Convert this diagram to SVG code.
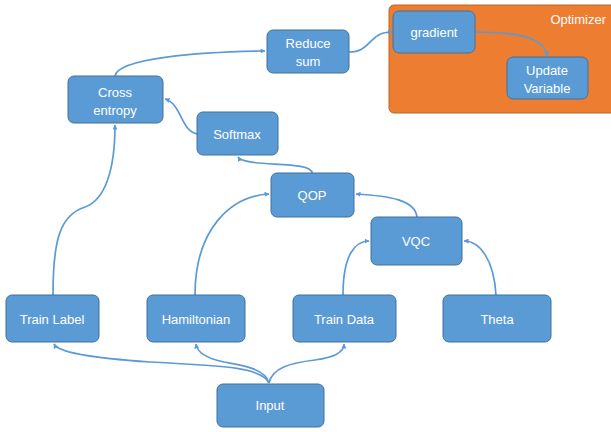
<svg xmlns="http://www.w3.org/2000/svg" width="611" height="432" viewBox="0 0 611 432">
<defs>
<marker id="ah" viewBox="0 0 10 10" refX="9" refY="5" markerWidth="5" markerHeight="5" markerUnits="userSpaceOnUse" orient="auto">
<path d="M0,0 L10,5 L0,10 z" fill="#5B9BD5"/>
</marker>
</defs>
<style>
.n rect{fill:#5B9BD5;stroke:#41719C;stroke-width:1}
.n text{fill:#FFFFFF;font-family:"Liberation Sans",Arial,sans-serif;font-size:13px;text-anchor:middle;dominant-baseline:central}
.c path{fill:none;stroke:#5B9BD5;stroke-width:1.7;marker-end:url(#ah)}
</style>
<rect width="611" height="432" fill="#FFFFFF"/>
<g id="optimizer">
<rect x="389" y="5" width="230" height="108" rx="5" fill="#ED7D31" stroke="#B8652A" stroke-width="1"/>
<text x="606" y="19" fill="#FFFFFF" font-family="Liberation Sans,Arial,sans-serif" font-size="13" text-anchor="end" dominant-baseline="central">Optimizer</text>
</g>
<g id="connectors" class="c">
<path d="M115,76 C118,58 200,52 265,51"/>
<path d="M349,52 C372,52 368,32 392,32"/>
<path d="M475,32 C525,32 545,40 547,56"/>
<path d="M197,134 C180,130 182,104 165,99"/>
<path d="M312,173 C312,160 245,168 238,157"/>
<path d="M195,295 C195,230 230,196 269,194"/>
<path d="M417,217 C415,200 390,196 356,194"/>
<path d="M343,295 C343,255 355,241 369,241"/>
<path d="M496,295 C494,260 480,241 464,241"/>
<path d="M53,295 C53,240 60,215 85,207 C105,200 115,170 115,125"/>
<path d="M269,383 C262,368 230,366 150,362 C90,358 58,352 54,344"/>
<path d="M269,383 C265,368 240,365 224,362 C205,358 197,352 196,344"/>
<path d="M269,383 C272,368 290,363 315,360 C338,357 344,350 344,344"/>
</g>
<g id="reduce-sum" class="n"><rect x="267" y="30" width="82" height="43" rx="6"/><text x="308" y="43">Reduce</text><text x="308" y="61">sum</text></g>
<g id="gradient" class="n"><rect x="393" y="11" width="82" height="42" rx="6"/><text x="434" y="32">gradient</text></g>
<g id="update-variable" class="n"><rect x="507" y="57" width="81" height="42" rx="6"/><text x="547" y="70">Update</text><text x="547" y="88">Variable</text></g>
<g id="cross-entropy" class="n"><rect x="68" y="76" width="95" height="47" rx="6"/><text x="115" y="92">Cross</text><text x="115" y="110">entropy</text></g>
<g id="softmax" class="n"><rect x="197" y="112" width="81" height="43" rx="6"/><text x="237" y="134">Softmax</text></g>
<g id="qop" class="n"><rect x="271" y="173" width="83" height="44" rx="6"/><text x="312" y="195">QOP</text></g>
<g id="vqc" class="n"><rect x="371" y="217" width="91" height="48" rx="6"/><text x="416" y="241">VQC</text></g>
<g id="train-label" class="n"><rect x="6" y="295" width="93" height="47" rx="6"/><text x="52" y="319">Train Label</text></g>
<g id="hamiltonian" class="n"><rect x="147" y="295" width="98" height="47" rx="6"/><text x="196" y="319">Hamiltonian</text></g>
<g id="train-data" class="n"><rect x="293" y="295" width="103" height="47" rx="6"/><text x="344" y="319">Train Data</text></g>
<g id="theta" class="n"><rect x="443" y="295" width="108" height="47" rx="6"/><text x="497" y="319">Theta</text></g>
<g id="input" class="n"><rect x="217" y="384" width="107" height="43" rx="6"/><text x="270" y="405">Input</text></g>
</svg>
